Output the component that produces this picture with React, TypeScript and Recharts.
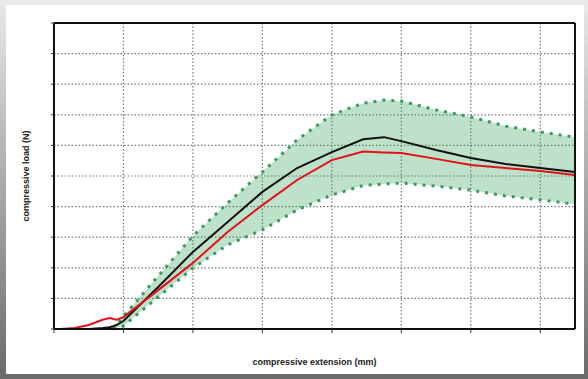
import React from 'react';
import { ComposedChart, Line, Area, XAxis, YAxis, CartesianGrid, ReferenceLine } from 'recharts';

const extension = [0, 0.1, 0.3, 0.5, 0.7, 0.8, 0.85, 0.9, 1.0, 1.5, 2.0, 2.5, 3.0, 3.5, 4.0, 4.45, 4.75, 5.0, 5.5, 6.0, 6.5, 7.0, 7.5];
const redLoad = [null, 0, 0.03, 0.13, 0.3, 0.36, 0.33, 0.3, 0.39, 1.27, 2.16, 3.17, 4.05, 4.87, 5.52, 5.8, 5.77, 5.75, 5.56, 5.36, 5.26, 5.16, 5.03];
const meanLoad = [null, null, null, 0, 0.03, 0.06, 0.09, 0.13, 0.26, 1.37, 2.52, 3.5, 4.48, 5.26, 5.78, 6.2, 6.27, 6.14, 5.85, 5.59, 5.39, 5.26, 5.13];
const upperLoad = [null, null, null, null, null, null, 0, 0.14, 0.42, 1.73, 3.04, 4.12, 5.13, 6.18, 7.0, 7.38, 7.48, 7.45, 7.16, 6.93, 6.63, 6.44, 6.27];
const lowerLoad = [null, null, null, null, null, null, 0, 0.03, 0.1, 1.05, 1.99, 2.75, 3.24, 3.89, 4.38, 4.69, 4.74, 4.77, 4.67, 4.54, 4.35, 4.22, 4.08];
const xTicks = [0, 1, 2, 3, 4, 5, 6, 7];
const yTicks = [0, 1, 2, 3, 4, 5, 6, 7, 8, 9, 10];

const data = extension.map((x, i) => ({
  x,
  red: redLoad[i],
  mean: meanLoad[i],
  upper: upperLoad[i],
  lower: lowerLoad[i],
  band: upperLoad[i] != null && lowerLoad[i] != null ? [lowerLoad[i], upperLoad[i]] : null,
}));

const labelStyle = { fontFamily: '"Liberation Sans", Arial, sans-serif', fontSize: 9, fontWeight: 700, fill: '#222' };
const blank = () => '';

export default function App() {
  return (
    <div
      style={{
        position: 'absolute',
        left: 0,
        top: 0,
        width: 588,
        height: 379,
        background: 'linear-gradient(to bottom, #e9e9e9 0%, #b5b5b5 40%, #8a8a8a 75%, #6a6a6a 100%)',
        overflow: 'hidden',
      }}
    >
      <div
        style={{
          position: 'absolute',
          left: 6,
          top: 5,
          width: 578,
          height: 369,
          background: '#fff',
        }}
      />
      <div style={{ position: 'absolute', left: 0, top: 0 }}>
        <ComposedChart
          width={588}
          height={379}
          data={data}
          margin={{ top: 23, right: 13, bottom: 10, left: 0 }}
        >
          <CartesianGrid stroke="#777" strokeDasharray="1.5 2" strokeWidth={1.2} />
          <XAxis
            dataKey="x"
            type="number"
            domain={[0, 7.5]}
            ticks={xTicks}
            tickFormatter={blank}
            tickSize={4}
            height={40}
            axisLine={{ stroke: '#111', strokeWidth: 2 }}
            tickLine={{ stroke: '#333' }}
            label={{ value: 'compressive extension (mm)', position: 'insideBottom', offset: 4, style: labelStyle }}
          />
          <YAxis
            type="number"
            domain={[0, 10]}
            ticks={yTicks}
            tickFormatter={blank}
            tickSize={3}
            width={54}
            axisLine={{ stroke: '#111', strokeWidth: 2 }}
            tickLine={{ stroke: '#333' }}
            label={{ value: 'compressive load (N)', angle: -90, position: 'center', dx: -1, style: { ...labelStyle, textAnchor: 'middle' } }}
          />
          <Area
            dataKey="band"
            type="linear"
            stroke="none"
            fill="#2e9e50"
            fillOpacity={0.31}
            connectNulls
            isAnimationActive={false}
          />
          <Line dataKey="upper" type="linear" stroke="#3a9a5e" strokeWidth={3} strokeDasharray="3 6" dot={false} connectNulls isAnimationActive={false} />
          <Line dataKey="lower" type="linear" stroke="#3a9a5e" strokeWidth={3} strokeDasharray="3 6" dot={false} connectNulls isAnimationActive={false} />
          <Line dataKey="mean" type="linear" stroke="#111" strokeWidth={2} dot={false} connectNulls isAnimationActive={false} />
          <Line dataKey="red" type="linear" stroke="#e3101c" strokeWidth={2} dot={false} connectNulls isAnimationActive={false} />
          <ReferenceLine y={10} stroke="#111" strokeWidth={2} ifOverflow="visible" />
          <ReferenceLine x={7.5} stroke="#111" strokeWidth={2} ifOverflow="visible" />
        </ComposedChart>
      </div>
    </div>
  );
}
